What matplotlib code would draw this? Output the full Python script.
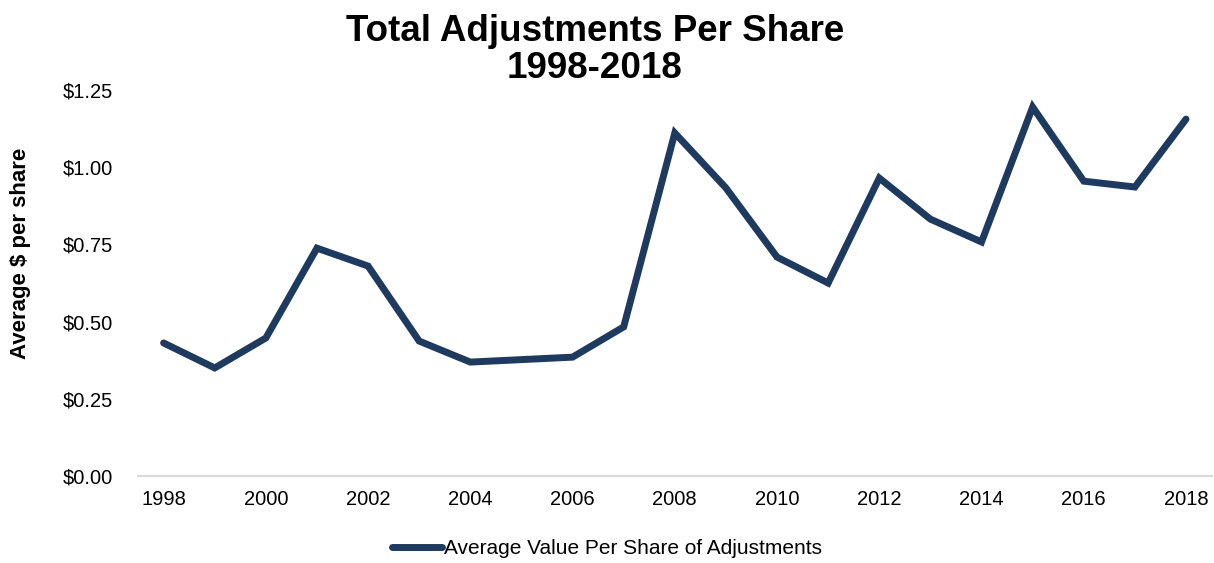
import matplotlib
matplotlib.use('Agg')
import matplotlib.pyplot as plt
from matplotlib.ticker import FuncFormatter

plt.rcParams['font.family'] = ['Liberation Sans', 'DejaVu Sans']

years = list(range(1998, 2019))
adjustments = [0.431, 0.350, 0.447, 0.738, 0.680, 0.437, 0.369, 0.377, 0.385, 0.483,
               1.111, 0.933, 0.709, 0.625, 0.965, 0.832, 0.758, 1.195, 0.955, 0.936, 1.156]
x_ticks = list(range(1998, 2019, 2))
y_ticks = [0, 0.25, 0.5, 0.75, 1.0, 1.25]

fig = plt.figure(figsize=(12.14, 5.63), dpi=100)
ax = fig.add_axes([0.1137, 0.1545, 0.8843, 0.6855])

ax.plot(years, adjustments, color='#1f3a5f', lw=5, solid_joinstyle='miter',
        solid_capstyle='round', clip_on=False,
        label='Average Value Per Share of Adjustments')

ax.set_xlim(1997.5, 2018.5)
ax.set_ylim(0, 1.25)
ax.set_xticks(x_ticks)
ax.set_yticks(y_ticks)
ax.yaxis.set_major_formatter(FuncFormatter(lambda v, p: '${:.2f}'.format(v)))
ax.tick_params(length=0, labelsize=14.5, colors='black')
ax.tick_params(axis='y', pad=18)
ax.tick_params(axis='x', pad=10)

for s in ['top', 'right', 'left']:
    ax.spines[s].set_visible(False)
ax.spines['bottom'].set_color('#d9d9d9')
ax.spines['bottom'].set_linewidth(1.5)

fig.text(0.017, 0.55, 'Average $ per share', rotation=90, ha='center', va='center',
         fontsize=16, fontweight='bold')
fig.text(0.49, 0.911, 'Total Adjustments Per Share\n1998-2018', ha='center', va='center',
         fontsize=26.5, fontweight='bold', linespacing=1.05)

fig.legend(loc='lower center', bbox_to_anchor=(0.5, -0.025), frameon=False, fontsize=15,
           handlelength=2.4, handletextpad=0.05)

fig.savefig('out.png', dpi=100)
